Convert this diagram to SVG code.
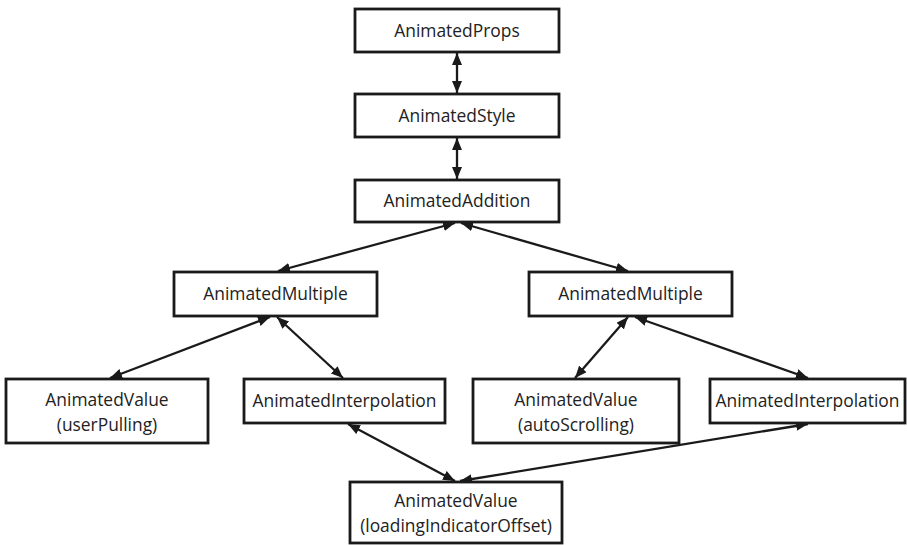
<svg xmlns="http://www.w3.org/2000/svg" width="907" height="545" viewBox="0 0 907 545">
<style>
.box{fill:#fff;stroke:#1a1a1a;stroke-width:2.8}
.t{font-family:"Open Sans","Liberation Sans",sans-serif;font-size:17.4px;fill:#222;text-anchor:middle}
.c{stroke:#1a1a1a;stroke-width:2.3;fill:none;marker-start:url(#ah);marker-end:url(#ah)}
</style>
<defs>
<marker id="ah" markerUnits="userSpaceOnUse" markerWidth="12" markerHeight="10" refX="12" refY="5" orient="auto-start-reverse">
<path d="M0,0 L12,5 L0,10 z" fill="#1a1a1a"/>
</marker>
</defs>
<rect width="907" height="545" fill="#fff"/>
<g id="connectors">
<line class="c" x1="457" y1="53" x2="457" y2="93"/>
<line class="c" x1="457" y1="138" x2="457" y2="179"/>
<line class="c" x1="455" y1="223" x2="278" y2="271"/>
<line class="c" x1="461" y1="223" x2="628" y2="271"/>
<line class="c" x1="270" y1="317" x2="110" y2="378"/>
<line class="c" x1="277" y1="317" x2="343" y2="378"/>
<line class="c" x1="628" y1="317" x2="575" y2="378"/>
<line class="c" x1="635" y1="317" x2="808" y2="378"/>
<line class="c" x1="348" y1="424" x2="455" y2="481"/>
<line class="c" x1="808" y1="424" x2="460" y2="481"/>
</g>
<g id="props"><rect class="box" x="355" y="9" width="204" height="43"/><text class="t" x="457" y="37">AnimatedProps</text></g>
<g id="style"><rect class="box" x="355" y="94" width="204" height="43"/><text class="t" x="457" y="122">AnimatedStyle</text></g>
<g id="addition"><rect class="box" x="355" y="180" width="204" height="42"/><text class="t" x="457" y="207">AnimatedAddition</text></g>
<g id="multipleL"><rect class="box" x="174" y="272" width="203" height="44"/><text class="t" x="275.5" y="300">AnimatedMultiple</text></g>
<g id="multipleR"><rect class="box" x="529" y="272" width="203" height="44"/><text class="t" x="630.5" y="300">AnimatedMultiple</text></g>
<g id="valueUser"><rect class="box" x="6" y="379" width="202" height="64"/><text class="t" x="107" y="406">AnimatedValue</text><text class="t" x="107" y="431">(userPulling)</text></g>
<g id="interpL"><rect class="box" x="244" y="379" width="201" height="44"/><text class="t" x="344.5" y="407">AnimatedInterpolation</text></g>
<g id="valueAuto"><rect class="box" x="473" y="379" width="206" height="64"/><text class="t" x="576" y="406">AnimatedValue</text><text class="t" x="576" y="431">(autoScrolling)</text></g>
<g id="interpR"><rect class="box" x="710" y="379" width="195" height="44"/><text class="t" x="807.5" y="407">AnimatedInterpolation</text></g>
<g id="valueLoading"><rect class="box" x="350" y="482" width="212" height="61"/><text class="t" x="456" y="507">AnimatedValue</text><text class="t" x="456" y="532">(loadingIndicatorOffset)</text></g>
</svg>
